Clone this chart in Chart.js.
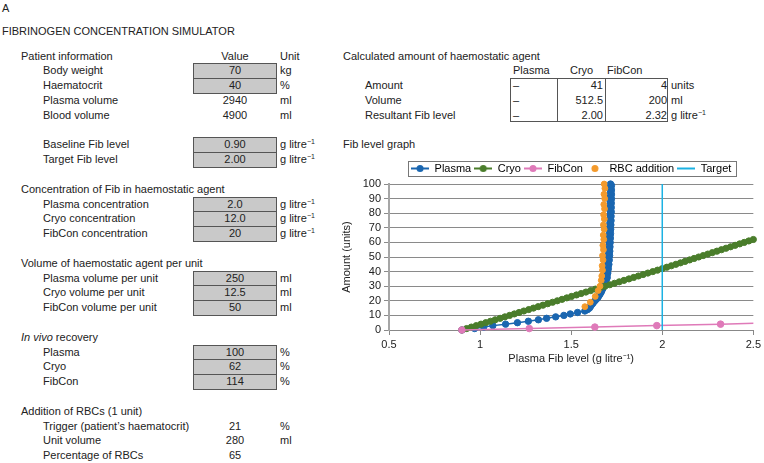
<!DOCTYPE html>
<html>
<head>
<meta charset="utf-8">
<script src="https://cdn.jsdelivr.net/npm/chart.js@4.4.0/dist/chart.umd.min.js"></script>
<style>
body { margin:0; width:764px; height:463px; background:#fff; font-family:"Liberation Sans", Arial, sans-serif; font-size:11px; color:#222; position:relative; overflow:hidden; }
.t { position:absolute; line-height:14.8px; white-space:nowrap; }
.c { text-align:center; width:84px; }
.r { text-align:right; }
.box { background:#c9c9c9; border:1px solid #555; box-sizing:border-box; height:15.8px; line-height:13.8px; }
sup { font-size:7px; position:relative; top:1px; vertical-align:top; line-height:8px; }
#tbl { position:absolute; left:510px; top:78px; width:158px; height:44px; border:1px solid #555; box-sizing:border-box; }
#tbl div { position:absolute; top:0; bottom:0; border-left:1px solid #555; }
#chartWrap { position:absolute; left:336px; top:160px; width:428px; height:210px; }
</style>
</head>
<body>
<div class="t" style="left:2px;top:1px">A</div>
<div class="t" style="left:2px;top:23.6px">FIBRINOGEN CONCENTRATION SIMULATOR</div>
<div id="tbl"><div style="left:46px"></div><div style="left:94px"></div></div>
<div id="chartWrap"><canvas id="fibChart" width="428" height="210"></canvas></div>

<script>
// chart data
const seriesNames = ['Plasma', 'Cryo', 'FibCon', 'RBC addition', 'Target'];
const xTicks = [0.5, 1, 1.5, 2, 2.5];

// plasma fib level for 0..100 units
const plasmaFib = [0.90, 0.97, 1.02, 1.07, 1.14, 1.205, 1.265, 1.32, 1.365, 1.415,
  1.46, 1.495, 1.535, 1.575, 1.59, 1.60, 1.605, 1.61, 1.617, 1.623,
  1.63, 1.638, 1.645, 1.65, 1.655, 1.66, 1.665, 1.668, 1.672, 1.675,
  1.678, 1.681, 1.684, 1.686,
  1.690, 1.694, 1.698, 1.693, 1.697, 1.701, 1.696, 1.700, 1.704, 1.699,
  1.703, 1.707, 1.701, 1.705, 1.709, 1.703, 1.707, 1.711, 1.705, 1.709,
  1.712, 1.706, 1.710, 1.713, 1.707, 1.711, 1.714, 1.708, 1.712, 1.715,
  1.709, 1.713, 1.716, 1.710, 1.714, 1.717, 1.711, 1.715, 1.718, 1.712,
  1.716, 1.719, 1.712, 1.716, 1.719, 1.713, 1.717, 1.720, 1.713, 1.717,
  1.720, 1.714, 1.717, 1.720, 1.714, 1.718, 1.721, 1.714, 1.718, 1.721,
  1.715, 1.718, 1.721, 1.715, 1.718, 1.721, 1.716];

// cryo fib level for 0..62 units
const cryoFib = [0.900, 0.926, 0.952, 0.979, 1.005, 1.031, 1.057, 1.083, 1.110, 1.136,
  1.162, 1.188, 1.214, 1.240, 1.267, 1.293, 1.319, 1.345, 1.371, 1.398,
  1.424, 1.450, 1.476, 1.502, 1.529, 1.555, 1.581, 1.607, 1.633, 1.660,
  1.686, 1.712, 1.738, 1.764, 1.790, 1.817, 1.843, 1.869, 1.895, 1.921,
  1.948, 1.974, 2.000, 2.025, 2.050, 2.075, 2.100, 2.125, 2.150, 2.175,
  2.200, 2.225, 2.250, 2.275, 2.300, 2.325, 2.350, 2.375, 2.400, 2.425,
  2.450, 2.475, 2.500];

// fibcon fib level for 0..5 units
const fibconFib = [0.90, 1.27, 1.63, 1.97, 2.32, 2.66];

// points where a unit of RBCs is added
const rbcAmount = [16, 19, 23, 27, 30, 34, 37, 41, 44, 48, 51, 55, 58, 62, 65, 69, 72, 76, 79, 83, 86, 90, 93, 97, 100];
const rbcFib = [1.575, 1.605, 1.632, 1.648, 1.658, 1.665, 1.668, 1.672, 1.670, 1.675, 1.672, 1.677, 1.674,
  1.679, 1.676, 1.681, 1.677, 1.682, 1.678, 1.683, 1.679, 1.684, 1.680, 1.685, 1.681];

const targetFib = [2.0, 2.0];
const targetAmount = [0, 100];

const colors = ['#1a66b0', '#4a7d2b', '#df7ab9', '#f49a2b', '#1cb2e3'];

// side tables (spreadsheet text)
const ROW0 = 48.6, ROW_H = 14.8;
const UNIT_G = 'g litre<sup>−1</sup>';
const leftRows = [
  [0, 21, 'Patient information', 'Value', 'Unit', false],
  [1, 43, 'Body weight', '70', 'kg', true],
  [2, 43, 'Haematocrit', '40', '%', true],
  [3, 43, 'Plasma volume', '2940', 'ml', false],
  [4, 43, 'Blood volume', '4900', 'ml', false],
  [6, 43, 'Baseline Fib level', '0.90', UNIT_G, true],
  [7, 43, 'Target Fib level', '2.00', UNIT_G, true],
  [9, 21, 'Concentration of Fib in haemostatic agent', '', '', false],
  [10, 43, 'Plasma concentration', '2.0', UNIT_G, true],
  [11, 43, 'Cryo concentration', '12.0', UNIT_G, true],
  [12, 43, 'FibCon concentration', '20', UNIT_G, true],
  [14, 21, 'Volume of haemostatic agent per unit', '', '', false],
  [15, 43, 'Plasma volume per unit', '250', 'ml', true],
  [16, 43, 'Cryo volume per unit', '12.5', 'ml', true],
  [17, 43, 'FibCon volume per unit', '50', 'ml', true],
  [19, 21, '<i>In vivo</i> recovery', '', '', false],
  [20, 43, 'Plasma', '100', '%', true],
  [21, 43, 'Cryo', '62', '%', true],
  [22, 43, 'FibCon', '114', '%', true],
  [24, 21, 'Addition of RBCs (1 unit)', '', '', false],
  [25, 43, 'Trigger (patient’s haematocrit)', '21', '%', false],
  [26, 43, 'Unit volume', '280', 'ml', false],
  [27, 43, 'Percentage of RBCs', '65', '', false]
];

function addText(row, left, html, cls, extra) {
  const el = document.createElement('div');
  el.className = 't' + (cls ? ' ' + cls : '');
  el.style.left = left + 'px';
  el.style.top = (ROW0 + row * ROW_H) + 'px';
  if (extra) Object.assign(el.style, extra);
  el.innerHTML = html;
  document.body.appendChild(el);
  return el;
}

leftRows.forEach(([row, indent, label, value, unit, boxed]) => {
  addText(row, indent, label);
  if (value !== '' || boxed) addText(row, 193, value, boxed ? 'c box' : 'c');
  if (unit) addText(row, 280, unit);
});

// calculated amount table
addText(0, 343, 'Calculated amount of haemostatic agent');
addText(1, 513, 'Plasma');
addText(1, 570, 'Cryo');
addText(1, 607, 'FibCon');
const calcRows = [
  [2, 'Amount', '41', '4', 'units'],
  [3, 'Volume', '512.5', '200', 'ml'],
  [4, 'Resultant Fib level', '2.00', '2.32', UNIT_G]
];
calcRows.forEach(([row, label, cryo, fibcon, unit]) => {
  addText(row, 365, label);
  addText(row, 513, '–');
  addText(row, 557, cryo, 'r', {width: '46px'});
  addText(row, 605, fibcon, 'r', {width: '62px'});
  addText(row, 671, unit);
});
addText(6, 343, 'Fib level graph');

// small legend symbols: line with a dot
function legendSymbol(color, line, dot) {
  const c = document.createElement('canvas');
  c.width = 18; c.height = 9;
  const g = c.getContext('2d');
  if (line) {
    g.strokeStyle = color; g.lineWidth = 2;
    g.beginPath(); g.moveTo(0, 4.5); g.lineTo(18, 4.5); g.stroke();
  }
  if (dot) {
    g.fillStyle = color;
    g.beginPath(); g.arc(9, 4.5, 3.5, 0, Math.PI * 2); g.fill();
  }
  return c;
}

// frame around the legend
const legendFrame = {
  id: 'legendFrame',
  afterDraw(chart) {
    const boxes = chart.legend && chart.legend.legendHitBoxes;
    if (!boxes || !boxes.length) return;
    const ctx = chart.ctx;
    const left = Math.min(...boxes.map(b => b.left)) - 3;
    const right = Math.max(...boxes.map(b => b.left + b.width)) + 5;
    const top = boxes[0].top - 2;
    const bottom = boxes[0].top + boxes[0].height + 2;
    ctx.save();
    ctx.strokeStyle = '#777';
    ctx.lineWidth = 1;
    ctx.strokeRect(Math.round(left) + 0.5, Math.round(top) + 0.5, Math.round(right - left), Math.round(bottom - top));
    ctx.restore();
  }
};

function createChart() {
  const el = document.getElementById('fibChart');
  if (!el || typeof Chart === 'undefined') {
    console.error('Chart.js or canvas missing');
    return null;
  }
  Chart.defaults.font.family = '"Liberation Sans", Arial, sans-serif';
  Chart.defaults.font.size = 11;
  Chart.defaults.color = '#222';

  const symbols = [
    legendSymbol(colors[0], true, true),
    legendSymbol(colors[1], true, true),
    legendSymbol(colors[2], true, true),
    legendSymbol(colors[3], false, true),
    legendSymbol(colors[4], true, false)
  ];

  const datasets = [
    {
      label: seriesNames[0],
      data: plasmaFib.map((x, i) => ({x: x, y: i})),
      showLine: true, borderColor: colors[0], backgroundColor: colors[0], borderWidth: 1.5,
      pointRadius: 3.2, pointBorderWidth: 1, pointBackgroundColor: colors[0], pointBorderColor: colors[0],
      clip: 6, order: 4
    },
    {
      label: seriesNames[1],
      data: cryoFib.map((x, i) => ({x: x, y: i})),
      showLine: true, borderColor: colors[1], backgroundColor: colors[1], borderWidth: 2,
      pointRadius: 3.1, pointBorderWidth: 1, pointBackgroundColor: colors[1], pointBorderColor: colors[1],
      clip: 6, order: 3
    },
    {
      label: seriesNames[2],
      data: fibconFib.map((x, i) => ({x: x, y: i})),
      showLine: true, borderColor: colors[2], backgroundColor: colors[2], borderWidth: 1.5,
      pointRadius: 3.3, pointBorderWidth: 1, pointBackgroundColor: colors[2], pointBorderColor: colors[2],
      clip: {left: 6, right: 0, top: 6, bottom: 6}, order: 2
    },
    {
      label: seriesNames[3],
      data: rbcFib.map((x, i) => ({x: x, y: rbcAmount[i]})),
      showLine: false, borderColor: colors[3], backgroundColor: colors[3],
      pointRadius: 2.9, pointBorderWidth: 1, pointBackgroundColor: colors[3], pointBorderColor: colors[3],
      clip: 6, order: 1
    },
    {
      label: seriesNames[4],
      data: targetFib.map((x, i) => ({x: x, y: targetAmount[i]})),
      showLine: true, borderColor: colors[4], backgroundColor: colors[4], borderWidth: 1.5,
      pointRadius: 0, order: 0
    }
  ];

  return new Chart(el.getContext('2d'), {
    type: 'scatter',
    data: {datasets: datasets},
    plugins: [legendFrame],
    options: {
      responsive: false,
      animation: false,
      layout: {padding: {left: 0, right: 8, top: 0, bottom: 0}},
      plugins: {
        tooltip: {enabled: false},
        legend: {
          position: 'top',
          fullSize: false,
          labels: {
            usePointStyle: true,
            pointStyleWidth: 18,
            padding: 3,
            color: '#222',
            font: {size: 11},
            generateLabels: chart => chart.data.datasets.map((ds, i) => ({
              text: ds.label,
              pointStyle: symbols[i],
              fillStyle: colors[i],
              strokeStyle: colors[i],
              lineWidth: 0,
              hidden: false,
              datasetIndex: i
            }))
          }
        }
      },
      scales: {
        x: {
          type: 'linear',
          min: xTicks[0],
          max: xTicks[xTicks.length - 1],
          afterBuildTicks: scale => { scale.ticks = xTicks.map(v => ({value: v})); },
          ticks: {callback: v => String(v), autoSkip: false, maxRotation: 0, padding: 3, color: '#222'},
          grid: {drawOnChartArea: false, color: '#888', tickLength: 5},
          border: {color: '#888', width: 1},
          title: {display: true, text: 'Plasma Fib level (g litre⁻¹)', color: '#222', padding: {top: 4, bottom: 4}},
          afterFit: scale => { scale.height = 40; }
        },
        y: {
          min: 0,
          max: 100,
          ticks: {stepSize: 10, autoSkip: false, padding: 3, color: '#222'},
          grid: {color: '#8a8a8a', tickLength: 5},
          border: {color: '#a6a6a6', width: 2},
          title: {display: true, text: 'Amount (units)', color: '#222', padding: {top: 4, bottom: 4}},
          afterFit: scale => { scale.width = 53; }
        }
      }
    }
  });
}

createChart();
</script>
</body>
</html>
